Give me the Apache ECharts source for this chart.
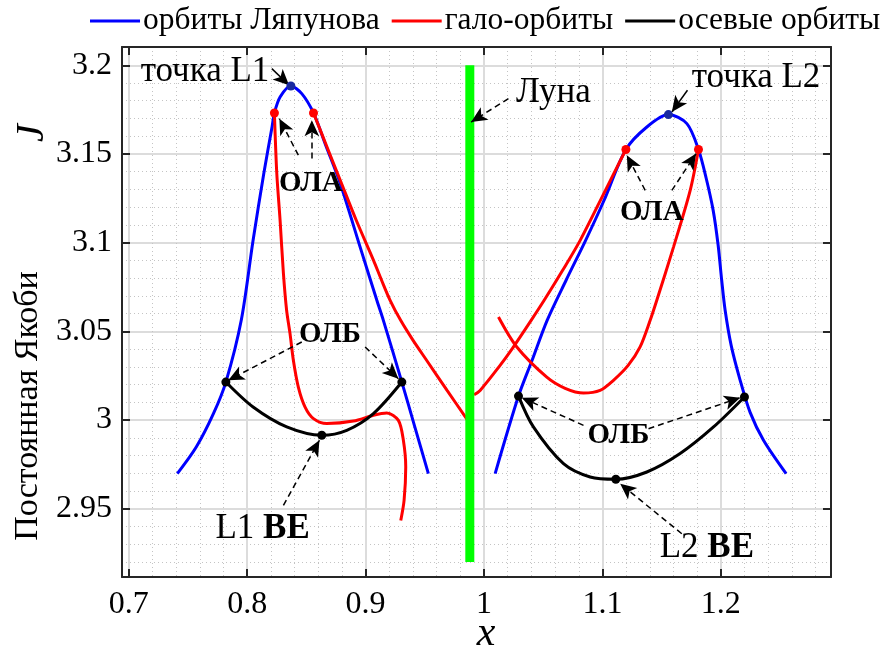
<!DOCTYPE html>
<html><head><meta charset="utf-8">
<script src="https://cdn.jsdelivr.net/npm/echarts@6/dist/echarts.min.js"></script>
<style>html,body{margin:0;padding:0;background:#fff}#c{width:886px;height:652px}</style>
</head><body><div id="c"></div>
<script>
const FONT = "'Liberation Serif','Times New Roman',serif";

// ---- axis ranges ----
const xRange = [0.6943, 1.293];
const yRange = [2.9115, 3.2103];
const xStep = 0.1, yStep = 0.05;

// ---- series names ----
const seriesNames = ['орбиты Ляпунова', 'гало-орбиты', 'осевые орбиты'];

// ---- Lyapunov orbit families (blue) ----
const lyapunovL1 = [[0.741,2.9698],[0.757,2.9848],[0.7715,3.0036],[0.782,3.0214],[0.795,3.0562],[0.805,3.1013],[0.814,3.1389],[0.821,3.1652],[0.823,3.1731],[0.8278,3.1821],[0.8369,3.1883],[0.8461,3.184],[0.856,3.1731],[0.8663,3.1549],[0.8785,3.1335],[0.8954,3.0975],[0.9095,3.0675],[0.915,3.0562],[0.9306,3.0214],[0.9418,2.9956],[0.953,2.9698]];
const lyapunovL2 = [[1.0094,2.9698],[1.0291,3.0135],[1.0406,3.0337],[1.0533,3.0562],[1.0693,3.0788],[1.0858,3.1013],[1.1014,3.1239],[1.1198,3.1525],[1.1375,3.1652],[1.1557,3.1722],[1.1713,3.1671],[1.1811,3.1525],[1.1876,3.1363],[1.1935,3.1182],[1.1977,3.0985],[1.2007,3.0788],[1.2036,3.0619],[1.2087,3.0421],[1.2163,3.0224],[1.2247,3.0043],[1.236,2.9886],[1.2551,2.9698]];

// ---- halo orbit families (red) ----
const haloL1a = [[0.823,3.1731],[0.825,3.1391],[0.8278,3.1126],[0.8306,3.0827],[0.8333,3.0619],[0.8362,3.0487],[0.839,3.0337],[0.8432,3.0186],[0.8489,3.0073],[0.856,3.0008],[0.8672,2.998],[0.8897,2.9994],[0.9066,3.0027],[0.9179,3.004],[0.9277,2.9998],[0.9319,2.9886],[0.9339,2.9735],[0.9325,2.9547],[0.9297,2.9434]];
const haloL1b = [[0.856,3.1731],[0.8685,3.1521],[0.8786,3.1352],[0.8921,3.1126],[0.9067,3.09],[0.9135,3.0788],[0.9207,3.0675],[0.9296,3.0562],[0.9401,3.0449],[0.9515,3.0337],[0.9688,3.0167],[0.9861,3.0]];
const haloL2a = [[0.9916,3.0142],[0.9967,3.0167],[1.0123,3.0297],[1.0246,3.041],[1.0398,3.0562],[1.0508,3.0675],[1.0664,3.0844],[1.0812,3.1013],[1.1025,3.1295],[1.1198,3.1525]];
const haloL2b = [[1.0122,3.0581],[1.0277,3.0412],[1.053,3.0242],[1.0685,3.0179],[1.084,3.0152],[1.098,3.0167],[1.1093,3.0224],[1.1217,3.0308],[1.1318,3.0412],[1.1403,3.0562],[1.1459,3.0675],[1.16,3.0975],[1.1741,3.1295],[1.1811,3.1525]];

// ---- axial orbit families (black) ----
const axialL1 = [[0.782,3.0214],[0.805,3.0073],[0.8334,2.9961],[0.863,2.9914],[0.8841,2.9942],[0.9066,3.0036],[0.9306,3.0214]];
const axialL2 = [[1.0291,3.0135],[1.0417,2.9961],[1.0671,2.9754],[1.0896,2.9679],[1.1113,2.9666],[1.1375,2.9707],[1.1656,2.9811],[1.1938,2.9961],[1.2199,3.013]];

// ---- special points ----
const librationPoints = [[0.8369,3.1883],[1.1557,3.1722]];
const haloBifurcations = [[0.823,3.1731],[0.856,3.1731],[1.1198,3.1525],[1.1811,3.1525]];
const axialPoints = [[0.782,3.0214],[0.9306,3.0214],[0.863,2.9914],[1.0291,3.0135],[1.2199,3.013],[1.1113,2.9666]];

// ---- Moon ----
const moonX = 0.988;
const moonSpan = [2.92, 3.2];

// ---- annotations ----
const noteTexts = ['точка L1','точка L2','Луна','ОЛА','ОЛА','ОЛБ','ОЛБ','L1 BE','L2 BE'];
const notePos = [[0.7644,3.1961],[1.2297,3.1932],[1.0586,3.1842],[0.8538,3.1333],[1.1417,3.1168],[0.87,3.0483],[1.1135,2.9914],[0.813,2.9384],[1.1882,2.9279]];
const arrowFrom = [[0.8208,3.1981],[1.1718,3.1859],[1.0206,3.1812],[0.8432,3.1493],[0.8546,3.1474],[1.1361,3.1295],[1.1586,3.1295],[0.8461,3.044],[0.8996,3.0412],[1.084,2.997],[1.1389,2.9951],[0.8306,2.9519],[1.167,2.9359]];
const arrowTo = [[0.8354,3.1887],[1.1586,3.1737],[0.9891,3.168],[0.8272,3.1699],[0.8546,3.169],[1.1206,3.1493],[1.1791,3.1502],[0.7841,3.0224],[0.9277,3.0233],[1.0319,3.0126],[1.2163,3.0126],[0.861,2.9886],[1.115,2.9641]];
const arrowSolid = [true,true,false,false,false,false,false,false,false,false,false,false,false];

const BLUE='#0000ff', RED='#ff0000', BLACK='#000000', GREEN='#00ff00';

function lineSeries(name, data, color){
  return {type:'line', name, data, smooth:0.3, showSymbol:false, symbol:'none',
    lineStyle:{color, width:3}, itemStyle:{color}, z:3, silent:true};
}
function dots(name, data, color){
  return {type:'scatter', name, data, symbolSize:9, itemStyle:{color, opacity:1}, z:6, silent:true};
}

function xAxisCfg(pos, labels){
  return {type:'value', position:pos, min:xRange[0], max:xRange[1], splitNumber:6,
    minInterval:xStep, maxInterval:xStep,
    axisLine:{show:true, onZero:false, lineStyle:{color:'#262626', width:2}},
    axisTick:{show:true, inside:true, length:8, lineStyle:{color:'#262626', width:2}},
    axisLabel:{show:labels, showMinLabel:false, showMaxLabel:false, margin:12, fontSize:32, fontFamily:FONT, color:'#000'},
    splitLine:{show:labels, lineStyle:{color:'#dcdcdc', width:2}},
    minorTick:{show:false, splitNumber:5},
    minorSplitLine:{show:labels, lineStyle:{color:'#c4c4c4', width:1, type:[1,3]}}};
}
function yAxisCfg(pos, labels){
  return {type:'value', position:pos, min:yRange[0], max:yRange[1], splitNumber:6,
    minInterval:yStep, maxInterval:yStep,
    axisLine:{show:true, onZero:false, lineStyle:{color:'#262626', width:2}},
    axisTick:{show:true, inside:true, length:8, lineStyle:{color:'#262626', width:2}},
    axisLabel:{show:labels, showMinLabel:false, showMaxLabel:false, margin:10, fontSize:32, fontFamily:FONT, color:'#000'},
    splitLine:{show:labels, lineStyle:{color:'#dcdcdc', width:2}},
    minorTick:{show:false, splitNumber:5},
    minorSplitLine:{show:labels, lineStyle:{color:'#c4c4c4', width:1, type:[1,3]}}};
}

const txt = (extra) => Object.assign({fontFamily:FONT, color:'#000', textBorderWidth:0, textShadowBlur:0}, extra);
const noteData = noteTexts.map((t,i)=>{
  let fmt;
  const rich = {
    n: txt({fontSize:35}),
    b: txt({fontSize:35, fontWeight:'bold'}),
    s: txt({fontSize:29, fontWeight:'bold'})
  };
  if (t.startsWith('ОЛ')) fmt = '{s|'+t+'}';
  else if (t.endsWith('BE')) { const p=t.split(' '); fmt = '{n|'+p[0]+' }{b|'+p[1]+'}'; }
  else fmt = '{n|'+t+'}';
  return {value:notePos[i], label:{show:true, position:'inside', formatter:fmt, rich,
    color:'#000', textBorderWidth:0, textBorderColor:'transparent'}};
});

const arrowData = arrowFrom.map((f,i)=>[
  {coord:f, lineStyle:{color:'#000', width:1.5, type: arrowSolid[i] ? 'solid' : [6,4]}},
  {coord:arrowTo[i]}
]);

const option = {
  animation:false,
  legend:{data:seriesNames, left:85, top:0, icon:'rect', itemWidth:50, itemHeight:3, itemGap:12,
    textStyle:{fontSize:31.5, fontFamily:FONT, color:'#000', padding:[0,0,0,-2]}},
  grid:{left:122, right:55, top:47, bottom:75, containLabel:false},
  xAxis:[xAxisCfg('bottom', true), xAxisCfg('top', false)],
  yAxis:[yAxisCfg('left', true), yAxisCfg('right', false)],
  graphic:[
    {type:'text', x:486, y:634, style:{text:'x', fontSize:42, fontStyle:'italic', fontFamily:FONT, fill:'#000', align:'center', verticalAlign:'middle'}},
    {type:'text', x:28, y:406, rotation:Math.PI/2, style:{text:'Постоянная Якоби', fontSize:34, fontFamily:FONT, fill:'#000', align:'center', verticalAlign:'middle'}},
    {type:'text', x:32, y:133, rotation:Math.PI/2, style:{text:'J', fontSize:40, fontStyle:'italic', fontFamily:FONT, fill:'#000', align:'center', verticalAlign:'middle'}}
  ],
  series:[
    lineSeries(seriesNames[0], lyapunovL1, BLUE),
    lineSeries(seriesNames[0], lyapunovL2, BLUE),
    lineSeries(seriesNames[1], haloL1a, RED),
    lineSeries(seriesNames[1], haloL1b, RED),
    lineSeries(seriesNames[1], haloL2a, RED),
    lineSeries(seriesNames[1], haloL2b, RED),
    lineSeries(seriesNames[2], axialL1, BLACK),
    lineSeries(seriesNames[2], axialL2, BLACK),
    {type:'line', name:'Луна', data:[[moonX,moonSpan[0]],[moonX,moonSpan[1]]], showSymbol:false, symbol:'none',
      lineStyle:{color:GREEN, width:9, cap:'butt'}, itemStyle:{color:GREEN}, z:4, silent:true},
    dots('L-точки', librationPoints, '#1a2aa0'),
    dots('ОЛА-точки', haloBifurcations, RED),
    dots('ОЛБ-точки', axialPoints, BLACK),
    {type:'scatter', name:'подписи', data:noteData, symbolSize:0, z:7, silent:true,
      itemStyle:{color:'#000', opacity:1},
      markLine:{silent:true, animation:false, symbol:['none','arrow'], symbolSize:[11,16],
        label:{show:false}, lineStyle:{color:'#000', width:1.5}, emphasis:{disabled:true},
        data:arrowData}}
  ]
};
const chart = echarts.init(document.getElementById('c'));
chart.setOption(option);
</script>
</body></html>
